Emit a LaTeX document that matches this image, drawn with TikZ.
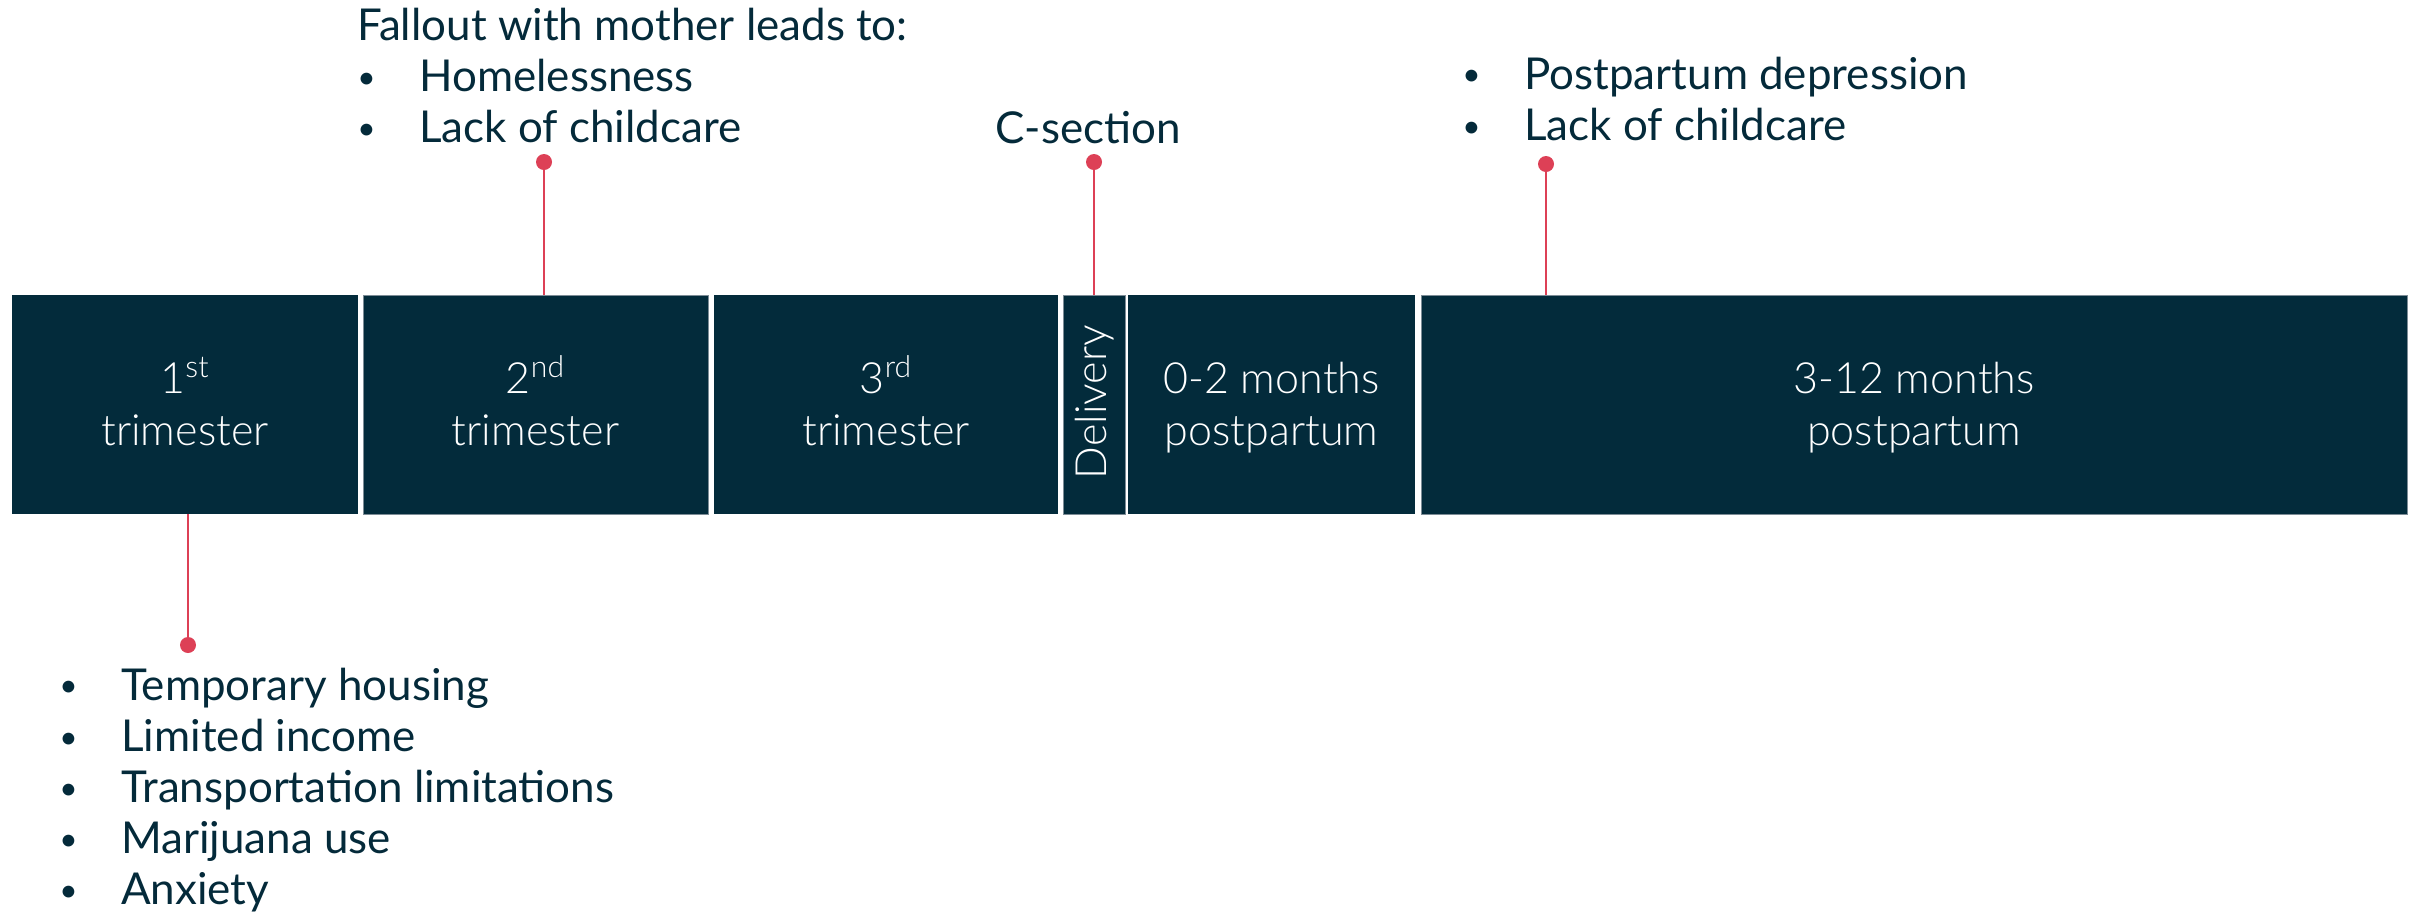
\documentclass[tikz,border=0pt]{standalone}
\usepackage{fontspec}
\setmainfont{Lato}
\newfontfamily\lightfont{Lato Light}
\definecolor{ink}{RGB}{4,42,58}
\definecolor{bandfill}{RGB}{3,43,59}
\definecolor{pinred}{RGB}{221,64,86}
\definecolor{rimgray}{RGB}{125,140,150}
% bullet item: a small bullet in a fixed-width slot, then the text
\newcommand{\bul}[1]{\makebox[1.24cm][l]{\raisebox{0.07em}{\scalebox{0.72}{\textbullet}}}#1}
\begin{document}
\begin{tikzpicture}[x=0.02cm, y=-0.02cm,
  band/.style={fill=bandfill, inner sep=0, minimum height=4.38cm},
  rimmed/.style={draw=rimgray, line width=0.5pt},
  boxlabel/.style={text=white, inner sep=0, anchor=base,
    font=\lightfont\fontsize{24.5}{29.6}\selectfont},
  note/.style={text=ink, inner sep=0, anchor=base west,
    font=\fontsize{25}{29.1}\selectfont},
  pinhead/.style={circle, fill=pinred, inner sep=0, minimum size=0.32cm},
  pinline/.style={draw=pinred, line width=1.6pt}]
\useasboundingbox (0,0) rectangle (2412,914);

% timeline bands
\node[band, minimum width=6.92cm] (b1) at (185,404.5) {};
\node[band, rimmed, minimum width=6.90cm] (b2) at (535.5,404.5) {};
\node[band, minimum width=6.88cm] (b3) at (886,404.5) {};
\node[band, rimmed, minimum width=1.24cm] (b4) at (1094,404.5) {};
\node[band, minimum width=5.74cm] (b5) at (1271.5,404.5) {};
\node[band, rimmed, minimum width=19.72cm] (b6) at (1914,404.5) {};

% band labels
\node[boxlabel] (l1) at (185,393) {\begin{tabular}[t]{@{}c@{}}1\textsuperscript{st}\\trimester\end{tabular}};
\node[boxlabel] (l2) at (535.5,393) {\begin{tabular}[t]{@{}c@{}}2\textsuperscript{nd}\\trimester\end{tabular}};
\node[boxlabel] (l3) at (886,393) {\begin{tabular}[t]{@{}c@{}}3\textsuperscript{rd}\\trimester\end{tabular}};
\node[boxlabel, rotate=90] (l4) at (1106,402) {Delivery};
\node[boxlabel] (l5) at (1271.5,393) {\begin{tabular}[t]{@{}c@{}}0-2 months\\postpartum\end{tabular}};
\node[boxlabel] (l6) at (1914,393) {\begin{tabular}[t]{@{}c@{}}3-12 months\\postpartum\end{tabular}};

% pins
\node[pinhead] (p1) at (188,645) {};
\node[pinhead] (p2) at (544,162) {};
\node[pinhead] (p3) at (1094,162) {};
\node[pinhead] (p4) at (1546,164) {};
\draw[pinline] (b1.south -| p1) -- (p1.center);
\draw[pinline] (b2.north -| p2) -- (p2.center);
\draw[pinline] (b4.north -| p3) -- (p3.center);
\draw[pinline] (b6.north -| p4) -- (p4.center);

% notes
\node[note] (n1) at (357,40) {\begin{tabular}[t]{@{}l@{}}Fallout with mother leads to:\\
  \bul{Homelessness}\\\bul{Lack of childcare}\end{tabular}};
\node[note, anchor=base] (n2) at (1088,143) {C-section};
\node[note] (n3) at (1462,89) {\begin{tabular}[t]{@{}l@{}}\bul{Postpartum depression}\\
  \bul{Lack of childcare}\end{tabular}};
\node[note] (n4) at (59,700) {\begin{tabular}[t]{@{}l@{}}\bul{Temporary housing}\\
  \bul{Limited income}\\\bul{Transportation limitations}\\\bul{Marijuana use}\\
  \bul{Anxiety}\end{tabular}};
\end{tikzpicture}
\end{document}
